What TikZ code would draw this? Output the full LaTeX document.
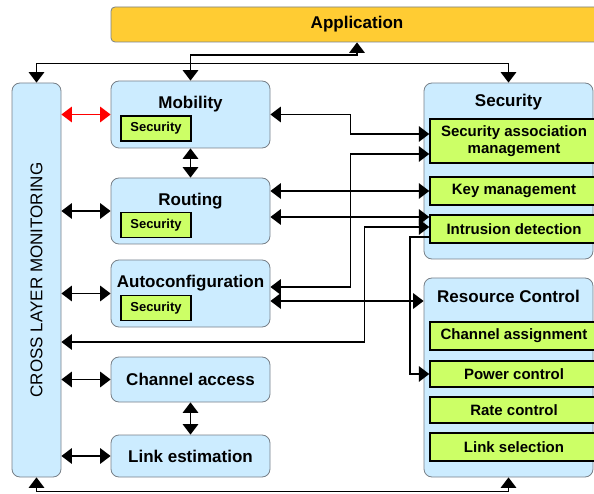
\documentclass[tikz,border=0pt]{standalone}
\usepackage{fontspec}
\setmainfont{Liberation Sans}
\usetikzlibrary{arrows.meta}
\definecolor{skyfill}{RGB}{204,236,255}
\definecolor{boxline}{RGB}{120,128,136}
\definecolor{limefill}{RGB}{204,255,102}
\definecolor{appfill}{RGB}{255,204,51}
\tikzset{
	layer/.style={draw=boxline, fill=skyfill, rounded corners=8pt, line width=0.8pt, inner sep=0pt,
		font=\fontsize{17}{19}\selectfont\bfseries},
	unit/.style={draw=black, fill=limefill, line width=1.4pt, inner sep=0pt, align=center,
		font=\fontsize{15}{17}\selectfont\bfseries},
	chip/.style={unit, minimum width=70pt, minimum height=25pt, font=\fontsize{13}{15}\selectfont\bfseries},
	title/.style={anchor=north, inner sep=0pt, font=\fontsize{17}{19}\selectfont\bfseries},
	link/.style={line width=1.8pt, >={Triangle[length=10.5pt,width=15.5pt]}, <->},
	onelink/.style={line width=1.8pt, >={Triangle[length=10.5pt,width=15.5pt]}, ->}
}
\begin{document}
\begin{tikzpicture}[x=1pt, y=-1pt]
			\useasboundingbox (0,0) rectangle (594,494);
			\node[layer, fill=appfill, rounded corners=4pt, minimum width=492pt, minimum height=35pt] (App) at (357,24.5) {Application};
			\node[layer, minimum width=49pt, minimum height=394pt, font=\fontsize{17}{19}\selectfont] (CLM) at (36.5,280) {\rotatebox{90}{CROSS LAYER MONITORING}};
			% left column
			\node[layer, minimum width=159pt, minimum height=67pt, label={[title, label distance=-15pt]north:Mobility}] (Mob) at (190.5,114.5) {};
			\node[layer, minimum width=159pt, minimum height=66pt, label={[title, label distance=-15pt]north:Routing}] (Rout) at (190.5,211) {};
			\node[layer, minimum width=159pt, minimum height=67pt, label={[title, label distance=-15pt]north:Autoconfiguration}] (Auto) at (190.5,293.5) {};
			\node[layer, minimum width=159pt, minimum height=45pt] (CA) at (190.5,379.5) {Channel access};
			\node[layer, minimum width=159pt, minimum height=42pt] (LE) at (190.5,456) {Link estimation};
			\node[chip] (MobSec) at (156,128.5) {Security};
			\node[chip] (RoutSec) at (156,225) {Security};
			\node[chip] (AutoSec) at (156,308) {Security};
			% right column
			\node[layer, minimum width=169pt, minimum height=176pt, label={[title, label distance=-11pt]north:Security}] (Sec) at (508.5,171) {};
			\node[layer, minimum width=169pt, minimum height=199pt, label={[title, label distance=-12pt]north:Resource Control}] (RC) at (508.5,377.5) {};
			\node[unit, minimum width=168pt, minimum height=44pt] (SAM) at (514,141) {Security association\\management};
			\node[unit, minimum width=168pt, minimum height=28pt] (KM) at (514,191) {Key management};
			\node[unit, minimum width=168pt, minimum height=28pt] (ID) at (514,229) {Intrusion detection};
			\node[unit, minimum width=168pt, minimum height=28pt] (ChA) at (514,336) {Channel assignment};
			\node[unit, minimum width=168pt, minimum height=26pt] (PC) at (514,374) {Power control};
			\node[unit, minimum width=168pt, minimum height=26pt] (RateC) at (514,410) {Rate control};
			\node[unit, minimum width=168pt, minimum height=28pt] (LS) at (514,447) {Link selection};
			% connectors
			\draw[link] (App.south) -- ++(0,13) -| (Mob.north);
			\draw[link] (CLM.north) -- ++(0,-19) -| (Sec.north);
			\draw[link] (CLM.south) -- ++(0,14) -| (RC.south);
			\draw[link, red] (Mob.west -| CLM.east) -- (Mob.west);
			\draw[link] (Rout.west -| CLM.east) -- (Rout.west);
			\draw[link] (Auto.west -| CLM.east) -- (Auto.west);
			\draw[link] (CA.west -| CLM.east) -- (CA.west);
			\draw[link] (LE.west -| CLM.east) -- (LE.west);
			\draw[link] (Mob.south) -- (Rout.north);
			\draw[link] (CA.south) -- (LE.north);
			\draw[link] (Mob.east) -- ++(80,0) |- ([yshift=7pt]SAM.west);
			\draw[link] ([yshift=6.5pt]Auto.east) -- ++(80,0) |- ([yshift=-13pt]SAM.west);
			\draw[link] (KM.west -| Rout.east) -- (KM.west);
			\draw[link] ([yshift=-6pt]Rout.east) -- ([yshift=12pt]ID.west);
			\draw[link] ([yshift=-62pt]CLM.east) -- ++(303,0) |- ([yshift=2pt]ID.west);
			\draw[onelink] ([yshift=-8pt]ID.west) -- ++(-19,0) |- (PC.west);
			\draw[link] ([yshift=-7.5pt]Auto.east) -- ([yshift=76.5pt]RC.west);
\end{tikzpicture}
\end{document}
